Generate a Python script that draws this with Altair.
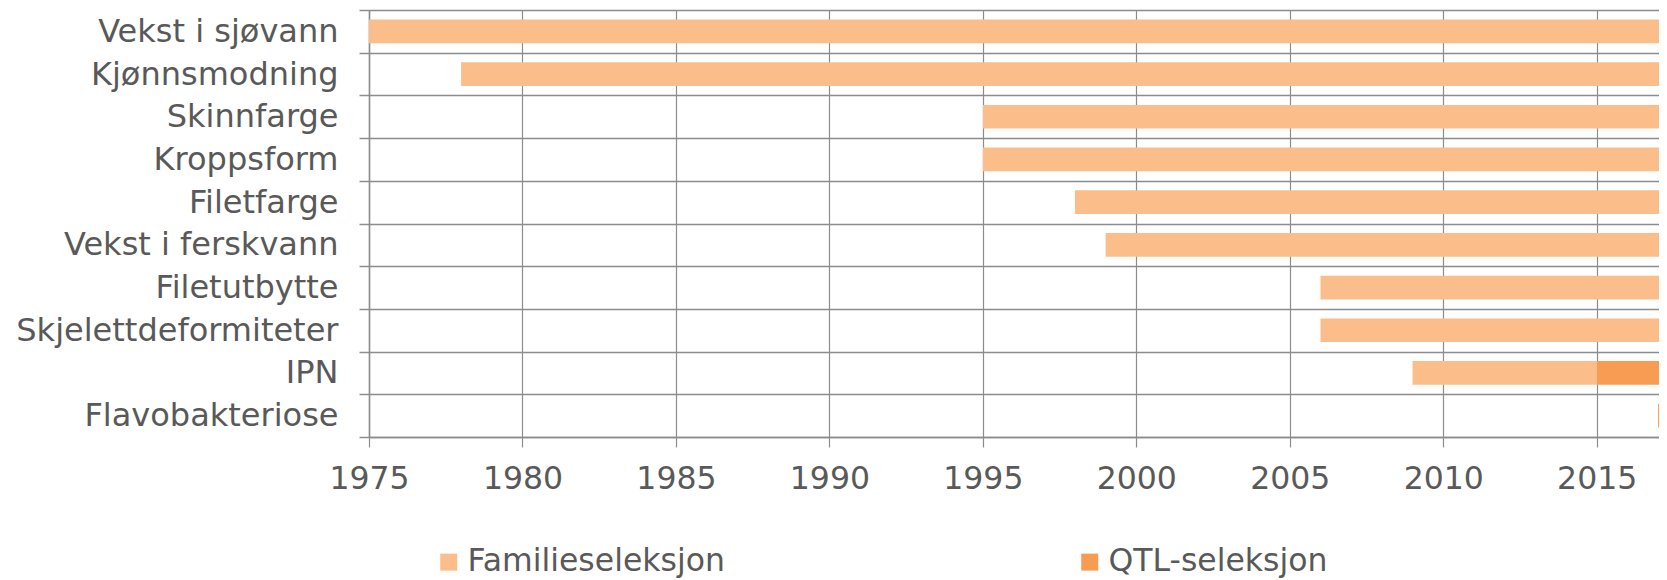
import altair as alt
import pandas as pd

categories = ["Vekst i sjøvann", "Kjønnsmodning", "Skinnfarge", "Kroppsform", "Filetfarge",
              "Vekst i ferskvann", "Filetutbytte", "Skjelettdeformiteter", "IPN", "Flavobakteriose"]
fam_start = [1975, 1978, 1995, 1995, 1998, 1999, 2006, 2006, 2009, None]
fam_end = [2018, 2018, 2018, 2018, 2018, 2018, 2018, 2018, 2015, None]
qtl_start = [None, None, None, None, None, None, None, None, 2015, 2017]
qtl_end = [None, None, None, None, None, None, None, None, 2018, 2018]
series = ["Familieseleksjon", "QTL-seleksjon"]
colors = ["#FBBE8A", "#F79C52"]
tick_years = [1975, 1980, 1985, 1990, 1995, 2000, 2005, 2010, 2015]

rows = []
for c, s, e in zip(categories, fam_start, fam_end):
    if s is not None:
        rows.append({"trait": c, "start": s, "end": e, "type": series[0]})
for c, s, e in zip(categories, qtl_start, qtl_end):
    if s is not None:
        rows.append({"trait": c, "start": s, "end": e, "type": series[1]})
df = pd.DataFrame(rows)

FONT = "DejaVu Sans"
TXT = "#595959"
GRID = "#8c8c8c"

chart = alt.Chart(df).mark_bar(height=alt.RelativeBandSize(0.555), clip=True).encode(
    y=alt.Y("trait:N", sort=categories, title=None,
            scale=alt.Scale(paddingInner=0, paddingOuter=0),
            axis=alt.Axis(tickBand="extent", grid=True, gridColor=GRID, gridWidth=1.5,
                          tickSize=10, tickColor=GRID, tickWidth=1.5,
                          domainColor=GRID, domainWidth=1.5,
                          labelPadding=21, labelFontSize=32, labelFont=FONT,
                          labelColor=TXT, labelLimit=400)),
    x=alt.X("start:Q", title=None,
            scale=alt.Scale(domain=[1975, 2017.03], nice=False, zero=False),
            axis=alt.Axis(values=tick_years, format="d", grid=True, gridColor=GRID, gridWidth=1.2,
                          tickSize=10, tickColor=GRID, tickWidth=1.2,
                          domainColor=GRID, domainWidth=1.5,
                          labelPadding=16, labelFontSize=31.5, labelFont=FONT,
                          labelColor=TXT, labelFlush=False)),
    x2="end:Q",
    color=alt.Color("type:N", title=None,
                    scale=alt.Scale(domain=series, range=colors),
                    legend=alt.Legend(orient="none", legendX=64, legendY=536,
                                      direction="horizontal", columns=2,
                                      columnPadding=349, symbolType="square",
                                      symbolSize=289, symbolStrokeWidth=0,
                                      labelOffset=3, labelFontSize=31.5,
                                      labelFont=FONT, labelColor=TXT,
                                      labelLimit=600)),
).properties(
    width=1290, height=427,
    autosize=alt.AutoSizeParams(type="none"),
    padding={"left": 361, "top": 2, "right": 0, "bottom": 143},
).configure_view(stroke=None)

chart.save("out.html", embed_options={"renderer": "svg", "actions": False})
